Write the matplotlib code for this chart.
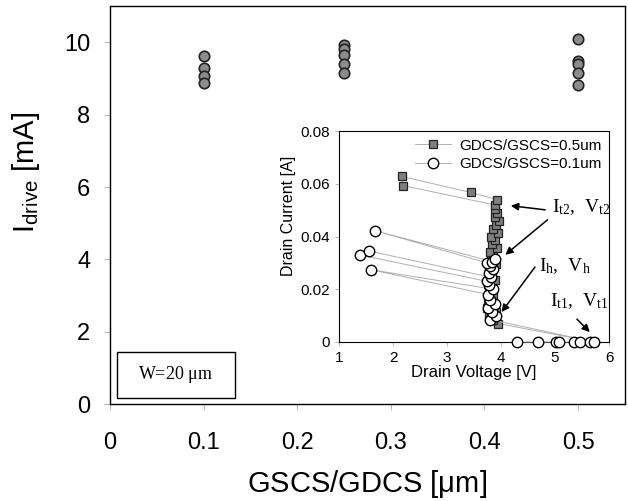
import matplotlib
matplotlib.use('Agg')
import matplotlib.pyplot as plt
from matplotlib.patches import Rectangle

plt.rcParams['font.family'] = ['Liberation Sans', 'DejaVu Sans']

# main plot: Idrive vs GSCS/GDCS
gscs = [0.1, 0.1, 0.1, 0.1,
        0.25, 0.25, 0.25, 0.25, 0.25,
        0.5, 0.5, 0.5, 0.5, 0.5]
idrive = [9.62, 9.28, 9.07, 8.87,
          9.94, 9.81, 9.66, 9.40, 9.16,
          10.10, 9.48, 9.39, 9.16, 8.83]

# inset TLP curves, in measurement order
v_05 = [5.68, 5.72,
        3.95, 3.85, 3.78, 3.90, 3.74, 3.82, 3.76, 3.86, 3.78, 3.83,
        3.76, 3.88, 3.80, 3.84, 3.78, 3.90, 3.82, 3.86, 3.80, 3.92,
        3.84, 3.88, 3.82, 3.94, 3.86, 3.90, 3.96, 3.88, 3.93, 3.89,
        3.88, 2.19, 2.16, 3.44, 3.93]
i_05 = [0.0, 0.0,
        0.0070, 0.0085, 0.0100, 0.0115, 0.0130, 0.0145, 0.0160, 0.0175, 0.0190, 0.0205,
        0.0220, 0.0235, 0.0250, 0.0265, 0.0280, 0.0295, 0.0310, 0.0325, 0.0340, 0.0355,
        0.0370, 0.0385, 0.0400, 0.0415, 0.0430, 0.0445, 0.0460, 0.0475, 0.0490, 0.0505,
        0.0520, 0.0593, 0.0628, 0.0567, 0.0540]

v_01 = [4.30, 4.69, 5.01, 5.07, 5.35, 5.46, 5.65, 5.73,
        3.80, 3.90, 3.84, 3.76, 3.88, 3.80, 3.76, 1.59,
        3.86, 3.78, 3.74, 1.39, 1.56,
        3.82, 3.78, 3.86, 3.80, 3.74, 1.67,
        3.84, 3.89]
i_01 = [0, 0, 0, 0, 0, 0, 0, 0,
        0.0085, 0.0100, 0.0115, 0.0130, 0.0145, 0.0160, 0.0180, 0.0274,
        0.0200, 0.0215, 0.0230, 0.0330, 0.0345,
        0.0245, 0.0260, 0.0275, 0.0290, 0.0300, 0.0422,
        0.0305, 0.0315]

fig = plt.figure(figsize=(6.28, 5.01), dpi=100)
ax = fig.add_axes([0.175, 0.1936, 0.820, 0.794])

ax.plot(gscs, idrive, 'o', ms=7.5, mfc='#8c8c8c', mec='#222222', mew=1.2)
ax.set_xlim(0, 0.55)
ax.set_ylim(0, 11)
ax.set_xticks([0, 0.1, 0.2, 0.3, 0.4, 0.5])
ax.set_xticklabels(['0', '0.1', '0.2', '0.3', '0.4', '0.5'])
ax.set_yticks([0, 2, 4, 6, 8, 10])
ax.tick_params(labelsize=17, length=4, color='#bbbbbb', pad=10)
ax.tick_params(axis='x', pad=16)
for s in ax.spines.values():
    s.set_linewidth(1.0)
ax.set_xlabel(r'GSCS/GDCS [$\mathregular{\mu}$m]', fontsize=21)
ax.xaxis.set_label_coords(0.5, -0.16)
ax.set_ylabel(r'I$_\mathregular{drive}$ [mA]', fontsize=21)
ax.yaxis.set_label_coords(-0.132, 0.583)

ax.add_patch(Rectangle((0.0136, 0.015), 0.229, 0.116, transform=ax.transAxes,
                       fill=False, ec='black', lw=1.0))
ax.text(0.128, 0.073, r'W=20 $\mathregular{\mu}$m', transform=ax.transAxes,
        ha='center', va='center', fontsize=13, family='Liberation Serif')

# inset
ins = fig.add_axes([0.5398, 0.3174, 0.430, 0.421])
ins.plot(v_05, i_05, '-s', color='#b0b0b0', lw=0.7, ms=5.5, mfc='#7f7f7f',
         mec='#222222', mew=0.9, label='GDCS/GSCS=0.5um', clip_on=False, zorder=3)
ins.plot(v_01, i_01, '-o', color='#b0b0b0', lw=0.7, ms=7.5, mfc='white',
         mec='black', mew=1.0, label='GDCS/GSCS=0.1um', clip_on=False, zorder=4)
ins.set_xlim(1, 6)
ins.set_ylim(0, 0.08)
ins.set_xticks([1, 2, 3, 4, 5, 6])
ins.set_yticks([0, 0.02, 0.04, 0.06, 0.08])
ins.set_yticklabels(['0', '0.02', '0.04', '0.06', '0.08'])
ins.tick_params(labelsize=11, length=3, color='#bbbbbb')
ins.set_xlabel('Drain Voltage [V]', fontsize=12, labelpad=0)
ins.set_ylabel('Drain Current [A]', fontsize=11.5)
ins.yaxis.set_label_coords(-0.16, 0.60)
ins.legend(loc='upper right', fontsize=11, frameon=False, handlelength=2.4,
           borderaxespad=0.1, labelspacing=0.3, handletextpad=0.5)

serif = 'Liberation Serif'
arrow = dict(arrowstyle='-|>', color='black', lw=1.1, mutation_scale=11)
ins.annotate('', xy=(4.13, 0.0518), xytext=(4.87, 0.0500), arrowprops=arrow)
ins.annotate('', xy=(4.04, 0.0324), xytext=(4.90, 0.0470), arrowprops=arrow)
ins.annotate('', xy=(3.98, 0.0105), xytext=(4.66, 0.0293), arrowprops=arrow)
ins.annotate('', xy=(5.68, 0.0030), xytext=(5.37, 0.0094), arrowprops=arrow)
ins.text(4.95, 0.0512, r'$\mathregular{I_{t2},\ V_{t2}}$', fontsize=14,
         family=serif, va='center')
ins.text(4.70, 0.0286, r'$\mathregular{I_{h},\ V_{h}}$', fontsize=14,
         family=serif, va='center')
ins.text(4.91, 0.0155, r'$\mathregular{I_{t1},\ V_{t1}}$', fontsize=14,
         family=serif, va='center')

fig.savefig('out.png', dpi=100)
